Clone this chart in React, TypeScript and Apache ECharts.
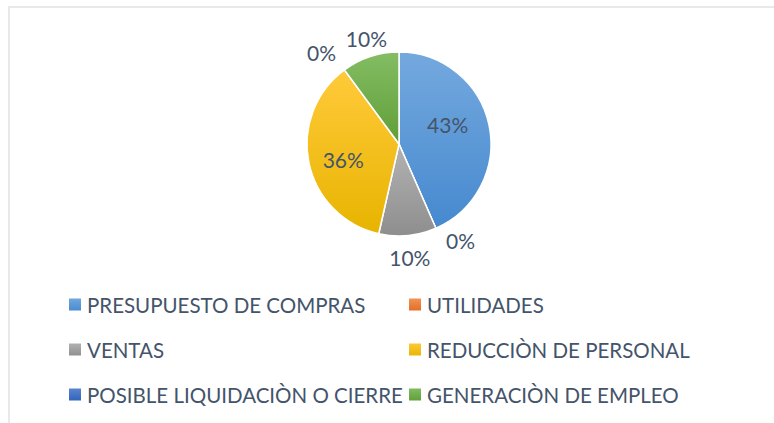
import React, { useEffect, useRef } from "react";
import * as echarts from "echarts";

const categories = [
  "PRESUPUESTO DE COMPRAS",
  "UTILIDADES",
  "VENTAS",
  "REDUCCIÒN DE PERSONAL",
  "POSIBLE LIQUIDACIÒN O CIERRE",
  "GENERACIÒN DE EMPLEO",
];
const values = [43, 0, 10, 36, 0, 10];
const labelInside = [true, false, false, true, false, false];
// label placement tweaks (degrees of angular nudge, radius factor) — layout only
const labelNudgeDeg = [-10, -9, 0, -4, -4, 1];
const labelRadius = [0.57, 1.24, 1.24, 0.63, 1.3, 1.2];
const topColors = ["#74a9de", "#f4955a", "#b3b3b3", "#ffca3a", "#5d87d2", "#84bd63"];
const bottomColors = ["#4689cf", "#e36c1f", "#8e8e8e", "#e8b400", "#3062b8", "#5f9e38"];

const TEXT = "#44546A";
const FONT = "Lato";
const CX = 399;
const CY = 144;
const R = 92;

export default function App() {
  const ref = useRef<HTMLDivElement>(null);
  useEffect(() => {
    if (!ref.current) return;
    const chart = echarts.init(ref.current, undefined, { renderer: "svg" });
    const total = values.reduce((a, b) => a + b, 0);
    const midAngle = (i: number) => {
      let before = 0;
      for (let k = 0; k < i; k++) before += values[k];
      return ((before + values[i] / 2) / total) * Math.PI * 2;
    };
    const data = categories.map((name, i) => ({
      name,
      value: values[i],
      itemStyle: {
        color: new echarts.graphic.LinearGradient(0, 0, 0, 1, [
          { offset: 0, color: topColors[i] },
          { offset: 1, color: bottomColors[i] },
        ]),
      },
      label: { position: labelInside[i] ? "inner" : "outside" },
    }));
    const legendBase = {
      top: 292,
      padding: 0,
      orient: "vertical",
      itemWidth: 14,
      itemHeight: 14,
      itemGap: 20,
      icon: "rect",
      selectedMode: false,
      textStyle: {
        color: TEXT,
        fontFamily: FONT,
        fontSize: 20.5,
        lineHeight: 25,
        padding: [0, 0, 0, 0],
      },
    };
    chart.setOption({
      animation: false,
      backgroundColor: "#ffffff",
      graphic: [
        {
          type: "rect",
          shape: { x: 9, y: 7, width: 820, height: 500 },
          style: { fill: "none", stroke: "#dfe2e6", lineWidth: 1.5 },
          silent: true,
        },
      ],
      legend: [
        { ...legendBase, left: 67, data: categories.filter((_, i) => i % 2 === 0) },
        { ...legendBase, left: 407, data: categories.filter((_, i) => i % 2 === 1) },
      ],
      series: [
        {
          type: "pie",
          center: [CX, CY],
          radius: R,
          startAngle: 90,
          clockwise: true,
          minShowLabelAngle: -1,
          avoidLabelOverlap: false,
          itemStyle: { borderColor: "#ffffff", borderWidth: 1.5 },
          label: {
            show: true,
            color: TEXT,
            fontFamily: FONT,
            fontSize: 21,
            formatter: (p: any) => p.value + "%",
          },
          labelLine: { show: false, length: 12, length2: 0 },
          labelLayout: (p: any) => {
            const i = p.dataIndex;
            const a = midAngle(i) + (labelNudgeDeg[i] * Math.PI) / 180;
            const d = R * labelRadius[i];
            return {
              x: CX + d * Math.sin(a),
              y: CY - d * Math.cos(a),
              align: "center",
              verticalAlign: "middle",
            };
          },
          emphasis: { disabled: true },
          data,
        },
      ],
    });
    return () => chart.dispose();
  }, []);
  return (
    <div
      ref={ref}
      style={{ position: "absolute", left: 0, top: 0, width: 774, height: 423 }}
    />
  );
}
